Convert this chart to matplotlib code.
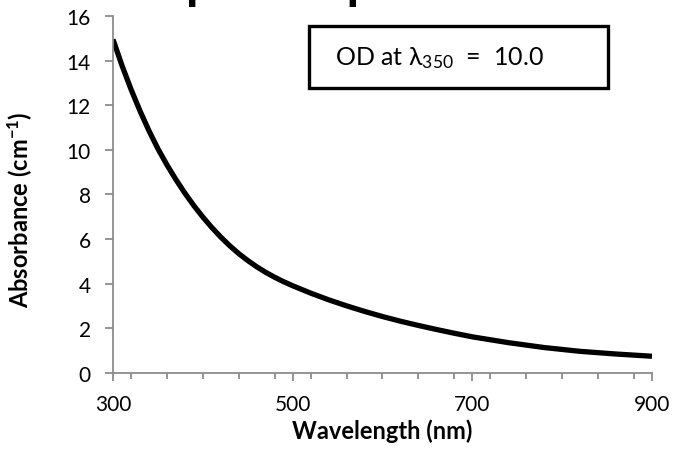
import matplotlib
matplotlib.use('Agg')
import matplotlib.pyplot as plt
from matplotlib.patches import Rectangle
from matplotlib.ticker import MultipleLocator

plt.rcParams['font.family'] = ['Lato', 'DejaVu Sans']
plt.rcParams['mathtext.default'] = 'regular'

# values
wavelength = [300, 310, 320, 330, 340, 350, 360, 370, 380, 390, 400, 410, 420,
              430, 440, 450, 460, 470, 480, 490, 500, 520, 540, 560, 580, 600,
              620, 640, 660, 680, 700, 740, 780, 820, 860, 900]
absorbance = [14.95, 13.78, 12.72, 11.75, 10.86, 10.05, 9.33, 8.67, 8.06, 7.5, 6.99,
              6.52, 6.09, 5.7, 5.35, 5.04, 4.76, 4.51, 4.29, 4.09, 3.91, 3.58,
              3.28, 3.01, 2.76, 2.53, 2.32, 2.13, 1.95, 1.78, 1.62, 1.36, 1.14,
              0.97, 0.85, 0.75]

xticks = [300, 500, 700, 900]
title = 'Absorption Spectrum'
box_text = r'OD at λ$_{350}$  =  10.0'

fig = plt.figure(figsize=(6.82, 4.52), dpi=100)
ax = fig.add_axes([0.1657, 0.1726, 0.7903, 0.7898])

ax.plot(wavelength, absorbance, color='black', lw=3.8, solid_capstyle='butt',
        solid_joinstyle='round')

ax.set_xlim(300, 900)
ax.set_ylim(0, 16)
ax.set_xticks(xticks)
ax.xaxis.set_minor_locator(MultipleLocator(40))
ax.yaxis.set_major_locator(MultipleLocator(2))

for s in ['top', 'right']:
    ax.spines[s].set_visible(False)
for s in ['left', 'bottom']:
    ax.spines[s].set_color('#8c8c8c')
    ax.spines[s].set_linewidth(1.3)

ax.tick_params(which='both', direction='out', color='#8c8c8c', width=1.3,
               labelsize=15, labelcolor='black')
ax.tick_params(which='major', length=6)
ax.tick_params(which='minor', length=4.3)
ax.tick_params(axis='x', pad=9)
ax.tick_params(axis='y', pad=10)

ax.set_xlabel('Wavelength (nm)', fontsize=17, fontweight='bold', labelpad=3)
ax.set_ylabel('Absorbance (cm$^{-1}$)', fontsize=17, fontweight='bold')
ax.yaxis.set_label_coords(-0.145, 0.46)

# title is cut off by the top edge of the image
fig.text(0.074, 1.004, title, fontsize=37, fontweight='bold', va='baseline', ha='left')

fig.patches.append(Rectangle((0.453, 0.803), 0.438, 0.137, transform=fig.transFigure,
                             fill=True, fc='white', ec='black', lw=2.4, zorder=5))
fig.text(0.491, 0.872, box_text, fontsize=18, va='center', ha='left', zorder=6)

fig.savefig('out.png', dpi=100)
